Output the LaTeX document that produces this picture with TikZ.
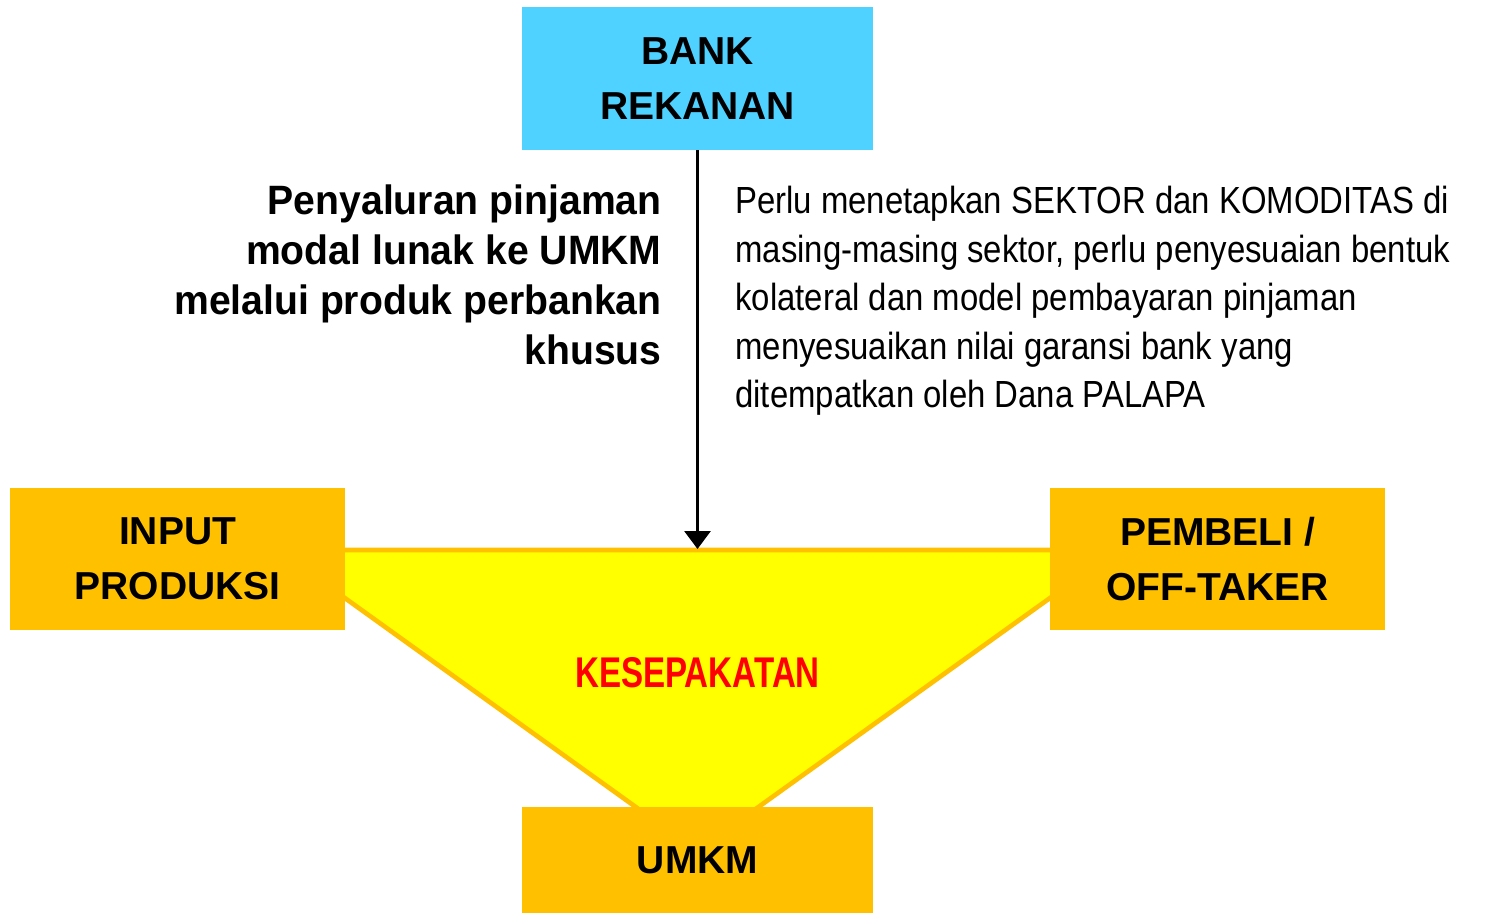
\documentclass[tikz,border=0pt]{standalone}
\usepackage{fontspec}
\setmainfont{Liberation Sans}
\newfontfamily\kesfont[FakeStretch=0.77]{Liberation Sans}
\newfontfamily\notefont[FakeStretch=0.87]{Liberation Sans}
\newfontfamily\leftfont[FakeStretch=0.955]{Liberation Sans}
\usetikzlibrary{arrows.meta}
\definecolor{cyanbox}{RGB}{79,210,255}
\definecolor{orangebox}{RGB}{255,192,0}
\definecolor{yellowfill}{RGB}{255,255,0}
\definecolor{redtext}{RGB}{255,0,0}
\tikzset{
  box/.style={rectangle, inner sep=0pt, align=center, text=black,
    font=\bfseries\fontsize{19.5}{27.5}\selectfont},
  cyanbox/.style={box, fill=cyanbox, minimum width=175.5pt, minimum height=71.5pt},
  sidebox/.style={box, fill=orangebox, minimum width=167.5pt, minimum height=71pt},
  umkmbox/.style={box, fill=orangebox, minimum width=175.5pt, minimum height=53pt},
  flowarrow/.style={line width=1.5pt, -{Triangle[width=13pt,length=9pt]}},
}
\begin{document}
\begin{tikzpicture}[x=0.5pt,y=-0.5pt]
\useasboundingbox (0,0) rectangle (1493,915);
% agreement triangle
\draw[orangebox, line width=2.3pt, fill=yellowfill, line join=miter]
  (278,550) -- (1117,550) -- (697,851) -- cycle;
\coordinate (tritop) at (697.5,549);
\node[text=redtext, font=\kesfont\bfseries\fontsize{21.5}{25}\selectfont] (kes) at (697.5,673) {KESEPAKATAN};
% boxes
\node[cyanbox] (bank) at (697.5,78.5) {BANK\\REKANAN};
\node[sidebox] (input) at (177.5,559) {INPUT\\PRODUKSI};
\node[sidebox] (pembeli) at (1217.5,559) {PEMBELI /\\OFF-TAKER};
\node[umkmbox] (umkm) at (697.5,860) {UMKM};
% arrow
\draw[flowarrow] (bank.south) -- (tritop);
% texts
\node[anchor=north east, inner sep=0pt, align=right,
  font=\leftfont\bfseries\fontsize{20.5}{25}\selectfont] (left) at (662,184)
  {Penyaluran pinjaman\\modal lunak ke UMKM\\melalui produk perbankan\\khusus};
\node[anchor=north west, inner sep=0pt, align=left,
  font=\notefont\fontsize{18.9}{24.25}\selectfont] (right) at (735,186)
  {Perlu menetapkan SEKTOR dan KOMODITAS di\\masing-masing sektor, perlu penyesuaian bentuk\\kolateral dan model pembayaran pinjaman\\menyesuaikan nilai garansi bank yang\\ditempatkan oleh Dana PALAPA};
\end{tikzpicture}
\end{document}
